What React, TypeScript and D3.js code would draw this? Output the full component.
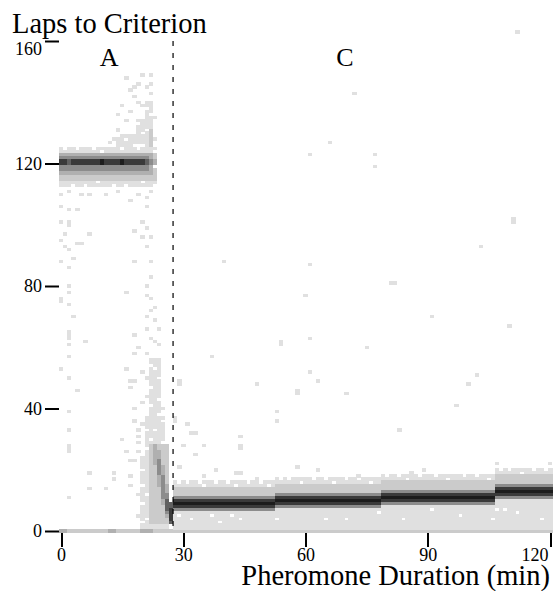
import React, { useRef, useEffect } from "react";
import * as d3 from "d3";

const xTicks = [0, 30, 60, 90, 120];
const yTicks = [0, 40, 80, 120, 160];
const phases = [
  { label: "A", minute: 11.8 },
  { label: "C", minute: 69.7 },
];
const switchMinute = 27.5;

// grey levels of the 2d histogram, 0 = empty
const shades = ["#ffffff", "#e0e0e0", "#cbcbcb", "#b0b0b0", "#8c8c8c", "#606060", "#3a3a3a", "#1c1c1c"];

// [minFrom, minTo, lapFrom, lapTo, level]
const blocks = [
  // phase A plateau near 120 laps
  [0, 23, 113, 125, 1],
  [0, 23, 115, 123, 2],
  [0, 22, 117, 123, 3],
  [0, 21, 118, 122, 4],
  // spread above the plateau
  [21, 22, 126, 140, 1],
  [19, 20, 127, 134, 1],
  [14, 18, 126, 129, 1],
  [22, 22, 126, 131, 2],
  // drop after the switch
  [22, 24, 38, 56, 1],
  [21, 25, 24, 37, 1],
  [20, 26, 1, 24, 1],
  [22, 26, 3, 28, 2],
  [23, 23, 22, 28, 3],
  [24, 24, 15, 26, 3],
  [25, 25, 9, 21, 3],
  [26, 26, 5, 15, 3],
  [24, 24, 19, 23, 4],
  [25, 25, 11, 18, 4],
  [26, 26, 6, 12, 4],
  [26, 26, 7, 10, 5],
  [27, 27, 3, 9, 5],
  [27, 27, 4, 7, 6],
  // zero-lap row before the switch
  [0, 27, 0, 0, 2],
  [0, 1, 0, 0, 3],
  [12, 13, 0, 0, 3],
  [20, 22, 0, 0, 3],
];

// darkness of the 120-lap core, minutes 0..23
const coreA = [6, 6, 5, 6, 6, 6, 6, 6, 6, 6, 7, 6, 6, 6, 6, 7, 6, 6, 6, 6, 6, 5, 4, 3];

// phase C ridge: [minFrom, minTo, top dark lap]
const ridgeC = [
  [28, 52, 10],
  [53, 78, 11],
  [79, 106, 12],
  [107, 121, 14],
];
// rows around the ridge top: [offsetFrom, offsetTo, level]
const ridgeProfile = [
  [5, 6, 1],
  [2, 4, 2],
  [1, 1, 4],
  [0, 0, 6],
  [-1, -1, 7],
  [-2, -2, 6],
  [-3, -3, 4],
];

// single faint cells [minute, lap]
const outliers = [
  [13, 128], [14, 131], [15, 127], [16, 129], [14, 136], [16, 134], [17, 137], [17, 144], [18, 142],
  [19, 146], [20, 149], [16, 148], [22, 149], [18, 145], [22, 143], [15, 139], [20, 139], [19, 140],
  [23, 135], [23, 128], [21, 145], [22, 146], [12, 127],
  [0, 110], [2, 111], [5, 110], [7, 110], [11, 110], [14, 111], [17, 108], [19, 110], [21, 109], [22, 111],
  [0, 106], [2, 105], [4, 105], [0, 101], [2, 100], [2, 101], [1, 97], [7, 97], [0, 95], [1, 93], [2, 92],
  [4, 94], [5, 94], [0, 88], [3, 89], [2, 86], [18, 88], [18, 98], [20, 101], [21, 99], [21, 106], [20, 96],
  [22, 96], [21, 93], [22, 88], [22, 83], [21, 80], [2, 80], [16, 78], [21, 77], [22, 76], [0, 76], [0, 75],
  [2, 78], [2, 74], [3, 70], [2, 65], [2, 64], [2, 63], [6, 62], [2, 61], [2, 57], [0, 53], [2, 50], [4, 46],
  [2, 39], [23, 73], [23, 69], [24, 66], [18, 64], [22, 63], [23, 62], [24, 61], [18, 58], [19, 60], [21, 58],
  [16, 53], [17, 49], [18, 49], [17, 47], [18, 40], [2, 33], [2, 28], [2, 27], [2, 26], [7, 19], [2, 11],
  [7, 14], [11, 14], [13, 19], [13, 17], [15, 30], [16, 26], [17, 23], [18, 23], [17, 18], [17, 15],
  [19, 31], [19, 29], [19, 33], [21, 70], [22, 72], [21, 66], [20, 52], [24, 56], [24, 45], [23, 41],
  [21, 44], [21, 50], [25, 40], [20, 35], [19, 26], [18, 36], [20, 42], [25, 33], [19, 12], [19, 5],
  [112, 163], [72, 143], [66, 127], [61, 123], [77, 123], [77, 119], [111, 101], [111, 102], [103, 93],
  [40, 88], [61, 87], [81, 81], [82, 81], [60, 77], [91, 70], [110, 67], [54, 61], [54, 62], [61, 63],
  [75, 60], [37, 57], [61, 52], [63, 49], [102, 51], [100, 48], [29, 48], [29, 49], [48, 48], [58, 45],
  [58, 46], [70, 45], [97, 41], [53, 39], [53, 36], [28, 36], [28, 37], [31, 35], [32, 32], [33, 32],
  [44, 31], [83, 33], [35, 28], [33, 25], [38, 20], [44, 27], [44, 28], [43, 19], [44, 19], [29, 21],
  [30, 28], [35, 18], [48, 17], [58, 21], [63, 20], [73, 18], [107, 22], [120, 22], [86, 19], [89, 20], [111, 20],
];

// empty cells inside the shaded areas [minute, lap]
const gaps = [
  // low band of phase C
  [29, 5], [32, 4], [37, 5], [44, 4], [42, 5], [53, 4], [65, 4], [70, 4], [39, 3], [78, 6],
  [98, 5], [107, 7], [109, 7], [112, 6], [91, 7], [106, 4], [118, 4], [84, 4],
  // ragged top of the phase C halo
  [29, 16], [31, 16], [34, 16], [35, 15], [38, 16], [41, 16], [43, 15], [46, 16], [49, 16], [51, 15],
  [54, 17], [56, 17], [59, 16], [62, 17], [65, 17], [67, 16], [70, 17], [73, 17], [76, 16],
  [80, 18], [83, 18], [85, 17], [88, 18], [92, 18], [95, 17], [99, 18], [102, 18], [105, 17],
  [108, 20], [110, 20], [113, 19], [116, 20], [119, 20],
  // ragged edges of phase A
  [1, 125], [4, 125], [8, 125], [10, 124], [15, 125], [19, 125], [3, 113], [6, 113], [9, 114],
  [13, 113], [16, 113], [20, 114], [23, 113], [23, 119], [23, 124],
  [14, 129], [16, 128], [18, 126], [21, 131], [22, 136], [21, 138], [20, 130], [19, 133],
  // patchy drop
  [22, 41], [22, 47], [24, 50], [24, 43], [23, 53], [22, 54], [24, 38], [21, 27], [21, 33],
  [25, 29], [20, 20], [20, 9], [20, 15], [21, 4], [25, 36], [20, 3], [21, 12], [22, 30], [23, 33],
];

export default function App() {
  const ref = useRef(null);

  const width = 553;
  const height = 591;

  const x = d3.scaleLinear().domain([0, 120]).range([61, 550]);
  const y = d3.scaleLinear().domain([0, 160]).range([531, 41]);

  useEffect(() => {
    const svg = d3.select(ref.current);
    svg.selectAll("*").remove();

    const grid = new Map();
    const paint = (m, l, level) => grid.set(m + "," + l, { m, l, level });

    blocks.forEach(([m0, m1, l0, l1, level]) => {
      for (let m = m0; m <= m1; m++) for (let l = l0; l <= l1; l++) paint(m, l, level);
    });
    coreA.forEach((level, m) => {
      paint(m, 120, level);
      paint(m, 121, level);
    });
    ridgeC.forEach(([m0, m1, top]) => {
      for (let m = m0; m <= m1; m++) {
        paint(m, 0, 2);
        for (let l = 1; l <= top - 4; l++) paint(m, l, 1);
        ridgeProfile.forEach(([o0, o1, level]) => {
          for (let o = o0; o <= o1; o++) paint(m, top + o, level);
        });
      }
    });
    gaps.forEach(([m, l]) => grid.delete(m + "," + l));
    outliers.forEach(([m, l]) => {
      if (!grid.has(m + "," + l)) paint(m, l, 1);
    });

    const cw = x(1) - x(0);
    const ch = y(0) - y(1);

    svg
      .append("g")
      .attr("shape-rendering", "crispEdges")
      .selectAll("rect")
      .data(Array.from(grid.values()))
      .join("rect")
      .attr("x", (d) => x(d.m - 0.5))
      .attr("y", (d) => y(d.l + 0.5))
      .attr("width", cw + 0.3)
      .attr("height", ch + 0.3)
      .attr("fill", (d) => shades[d.level]);

    svg
      .append("line")
      .attr("x1", x(switchMinute))
      .attr("x2", x(switchMinute))
      .attr("y1", y(160))
      .attr("y2", y(0))
      .attr("stroke", "#000")
      .attr("stroke-width", 1.2)
      .attr("stroke-dasharray", "5,7");

    const font = "'Liberation Serif', 'Times New Roman', serif";

    const yAxis = svg
      .append("g")
      .attr("transform", "translate(59,0)")
      .call(d3.axisLeft(y).tickValues(yTicks).tickSize(14).tickPadding(3));
    yAxis.select(".domain").remove();
    yAxis.selectAll("line").attr("stroke-width", 2);
    yAxis
      .selectAll("text")
      .attr("font-family", font)
      .attr("font-size", 18)
      .attr("y", (d) => Math.max(0, 49 - y(d)));

    const xAxis = svg
      .append("g")
      .attr("transform", "translate(0,533)")
      .call(d3.axisBottom(x).tickValues(xTicks).tickSize(14).tickPadding(1));
    xAxis.select(".domain").remove();
    xAxis.selectAll("line").attr("stroke-width", 2).attr("shape-rendering", "crispEdges");
    xAxis
      .selectAll("text")
      .attr("font-family", font)
      .attr("font-size", 18)
      .attr("text-anchor", (d) => (d === 120 ? "end" : "middle"))
      .attr("x", (d) => (d === 120 ? -2 : 0));

    svg
      .selectAll("text.phase")
      .data(phases)
      .join("text")
      .attr("class", "phase")
      .attr("x", (d) => x(d.minute))
      .attr("y", 66)
      .attr("text-anchor", "middle")
      .attr("font-family", font)
      .attr("font-size", 26)
      .text((d) => d.label);

    svg
      .append("text")
      .attr("x", 12)
      .attr("y", 33)
      .attr("font-family", font)
      .attr("font-size", 28.5)
      .text("Laps to Criterion");

    svg
      .append("text")
      .attr("x", 550)
      .attr("y", 584.5)
      .attr("text-anchor", "end")
      .attr("font-family", font)
      .attr("font-size", 28.5)
      .text("Pheromone Duration (min)");
  }, []);

  return (
    <svg
      width={width}
      height={height}
      ref={ref}
      style={{ position: "absolute", left: 0, top: 0, background: "#fff" }}
    ></svg>
  );
}
